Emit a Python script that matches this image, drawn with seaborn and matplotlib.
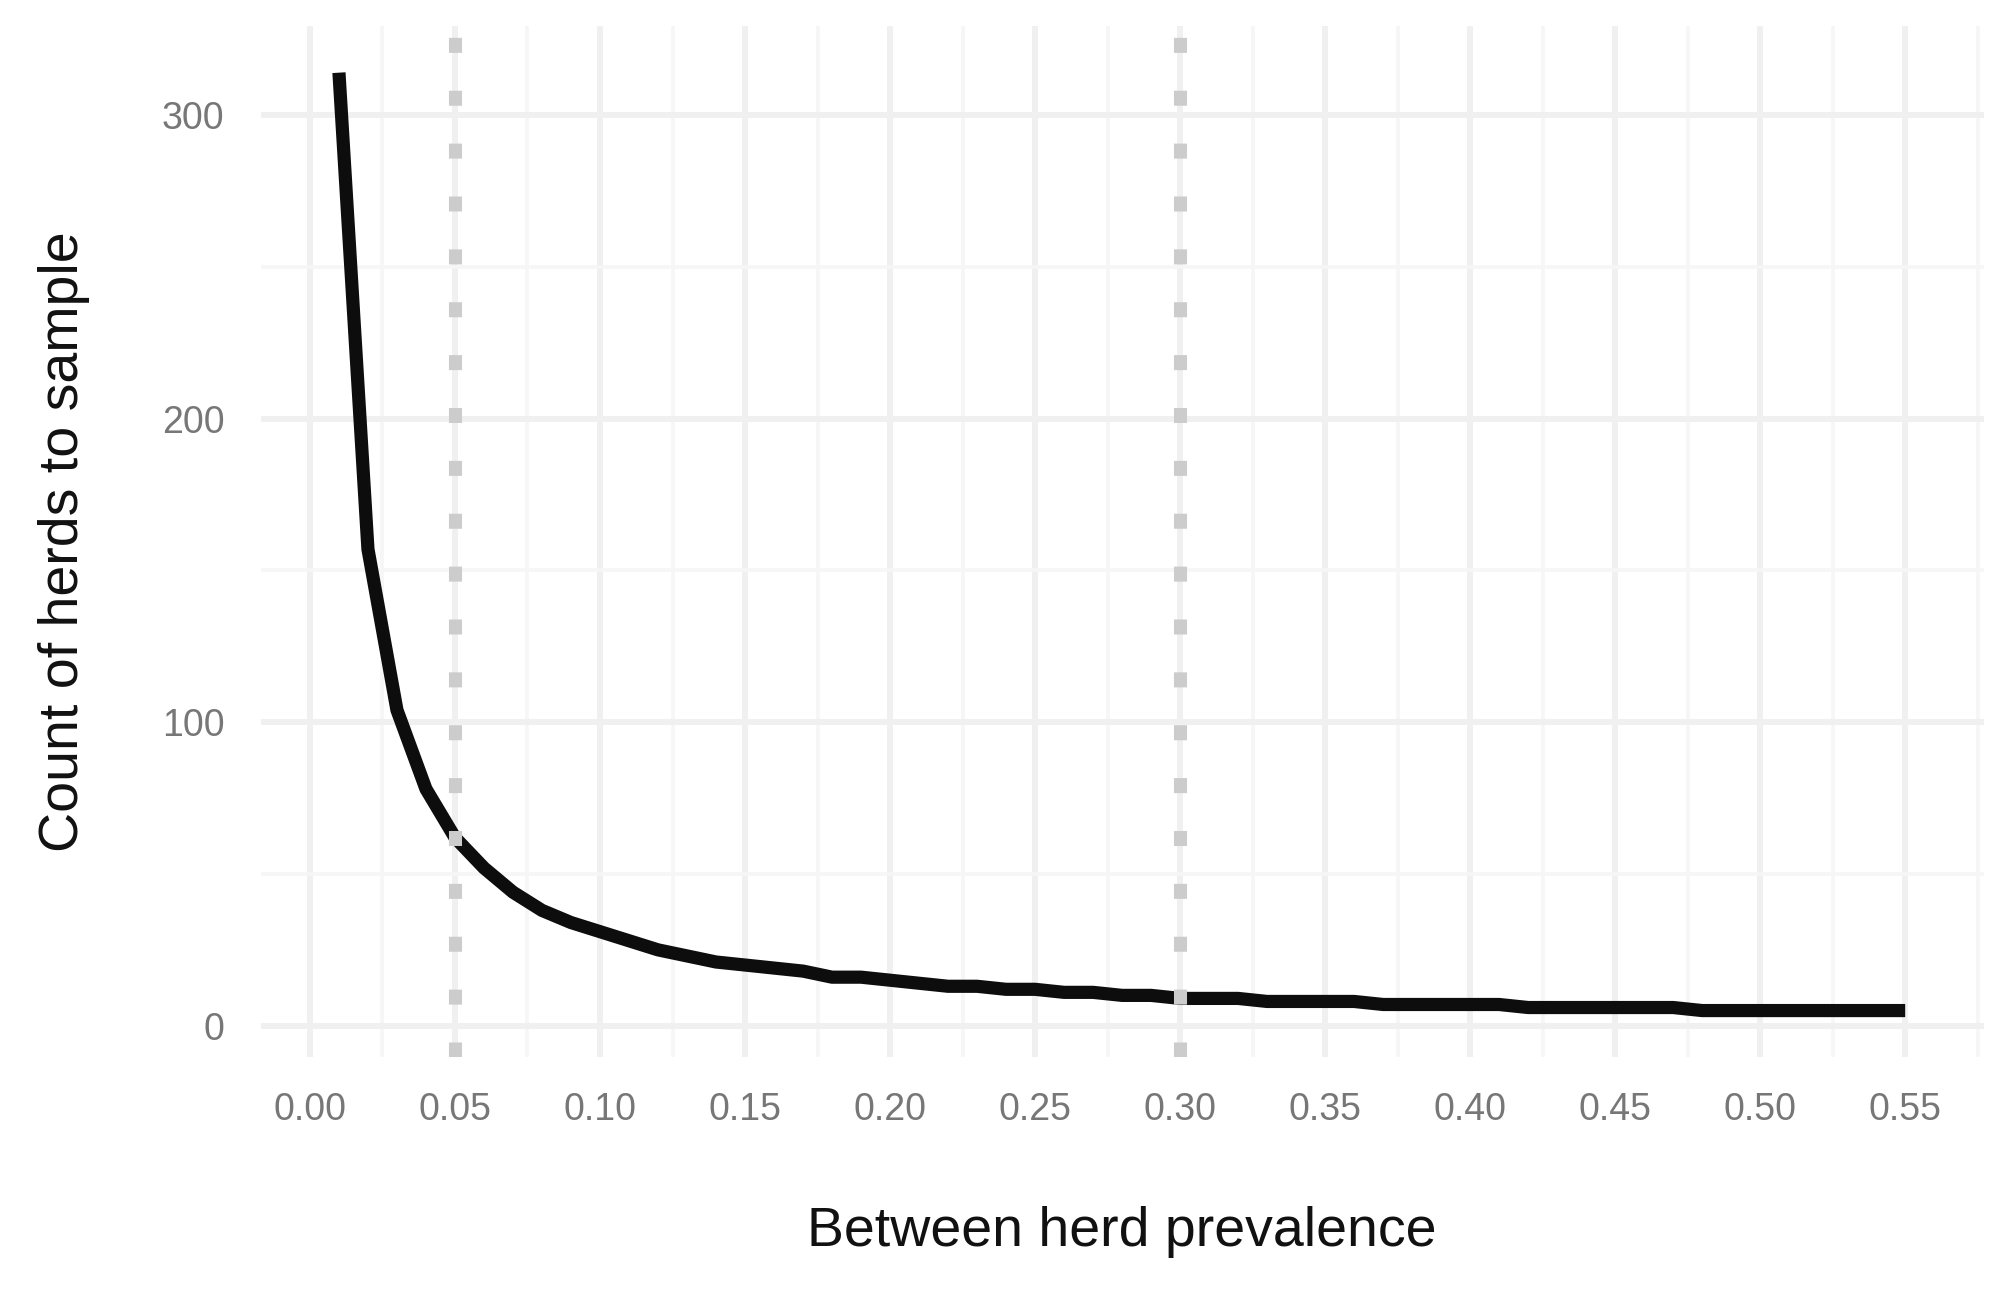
import numpy as np
import pandas as pd
import seaborn as sns
import matplotlib.pyplot as plt
from matplotlib.ticker import MultipleLocator

# between-herd prevalence (x) and number of herds to sample (y)
prevalence = np.round(np.arange(1, 56) / 100, 2)
herds = [314, 157, 104, 78, 62, 52, 44, 38, 34, 31,
         28, 25, 23, 21, 20, 19, 18, 16, 16, 15,
         14, 13, 13, 12, 12, 11, 11, 10, 10, 9,
         9, 9, 8, 8, 8, 8, 7, 7, 7, 7,
         7, 6, 6, 6, 6, 6, 6, 5, 5, 5,
         5, 5, 5, 5, 5]
cutoffs = [0.05, 0.30]

df = pd.DataFrame({'prev': prevalence, 'n': herds})

sns.set_theme(style='white')
plt.rcParams['font.family'] = ['Liberation Sans', 'DejaVu Sans']

fig = plt.figure(figsize=(20.08, 12.94), dpi=100)
ax = fig.add_axes([0.1298, 0.1828, 0.858, 0.7974])

sns.lineplot(data=df, x='prev', y='n', ax=ax, color='#0d0d0d', linewidth=9.5,
             solid_capstyle='butt', solid_joinstyle='round', zorder=3)
for c in cutoffs:
    ax.axvline(c, color='#cccccc', linewidth=9.4, linestyle=(0, (1.15, 2.9)),
               dash_capstyle='butt', zorder=4)

ax.set_xlim(-0.017, 0.577)
ax.set_ylim(-10.45, 329.5)
ax.xaxis.set_major_locator(MultipleLocator(0.05))
ax.xaxis.set_minor_locator(MultipleLocator(0.025))
ax.yaxis.set_major_locator(MultipleLocator(100))
ax.yaxis.set_minor_locator(MultipleLocator(50))
ax.xaxis.set_major_formatter(lambda v, p: f'{v:.2f}')
ax.yaxis.set_major_formatter(lambda v, p: f'{v:.0f}')

ax.grid(which='major', color='#f0f0f0', linewidth=4.3)
ax.grid(which='minor', color='#f6f6f6', linewidth=2.6)
ax.set_axisbelow(True)
for s in ax.spines.values():
    s.set_visible(False)

ax.tick_params(which='both', length=0)
ax.tick_params(axis='x', labelsize=27, labelcolor='#777777', pad=25)
ax.tick_params(axis='y', labelsize=27, labelcolor='#777777', pad=26)

ax.set_xlabel('Between herd prevalence', fontsize=40, color='#111111', va='center')
ax.set_ylabel('Count of herds to sample', fontsize=40, color='#111111', va='center')
ax.xaxis.set_label_coords(0.5, -0.1687)
ax.yaxis.set_label_coords(-0.1141, 0.5)

fig.savefig('out.png', dpi=100, facecolor='white')
